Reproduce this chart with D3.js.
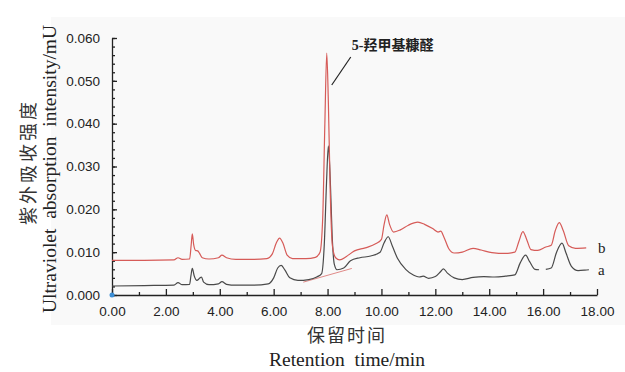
<!DOCTYPE html>
<html>
<head>
<meta charset="utf-8">
<script src="https://cdn.jsdelivr.net/npm/d3@7"></script>
<style>
  body { margin: 0; background: #fff; }
  svg { display: block; }
</style>
</head>
<body>
<div class="canvas"></div>
<script>
// curve b (red), [time, intensity]
const seriesB = [
  [0,0.0081],[1.2,0.0081],[2.3,0.0082],[2.45,0.0087],[2.6,0.0083],[2.88,0.0084],[2.94,0.0118],[2.98,0.0143],
  [3.03,0.0118],[3.1,0.0104],[3.18,0.0103],[3.25,0.0097],[3.35,0.0087],[3.6,0.0084],[3.95,0.0087],[4.08,0.0093],
  [4.25,0.0087],[4.6,0.0083],[5.2,0.0083],[5.75,0.0085],[5.95,0.0096],[6.1,0.0122],[6.22,0.0133],[6.35,0.0120],
  [6.5,0.0093],[6.7,0.0085],[7.2,0.0085],[7.55,0.0088],[7.72,0.0100],[7.82,0.018],[7.9,0.040],[7.97,0.0565],
  [8.03,0.045],[8.1,0.024],[8.18,0.0115],[8.3,0.0087],[8.45,0.0082],[8.7,0.0090],[9.0,0.0103],[9.4,0.0110],
  [9.8,0.0120],[10.0,0.0130],[10.1,0.0165],[10.2,0.0187],[10.3,0.0165],[10.45,0.0147],[10.7,0.0152],[11.0,0.0163],
  [11.35,0.0170],[11.6,0.0165],[11.9,0.0155],[12.1,0.0147],[12.2,0.0149],[12.32,0.0135],[12.5,0.0108],[12.7,0.0098],
  [13.0,0.0100],[13.4,0.0109],[13.7,0.0105],[14.1,0.0099],[14.6,0.0097],[14.95,0.0100],[15.1,0.0125],[15.25,0.0148],
  [15.4,0.0128],[15.55,0.0106],[15.8,0.0104],[16.1,0.0112],[16.3,0.0116],[16.45,0.0150],[16.6,0.0169],[16.75,0.0150],
  [16.95,0.0115],[17.2,0.0109],[17.6,0.0110]
]
// curve a (dark), null = gap in the trace
const seriesA = [
  [0,0.0021],[1.2,0.0022],[2.3,0.0023],[2.45,0.0029],[2.6,0.0024],[2.88,0.0025],[2.93,0.0045],[2.98,0.0062],
  [3.05,0.0045],[3.15,0.0034],[3.25,0.0039],[3.32,0.0042],[3.4,0.0030],[3.6,0.0024],[3.95,0.0026],[4.08,0.0031],
  [4.25,0.0025],[4.6,0.0023],[5.2,0.0023],[5.8,0.0026],[6.0,0.0040],[6.15,0.0063],[6.28,0.0069],[6.42,0.0058],
  [6.6,0.0040],[6.9,0.0034],[7.3,0.0036],[7.6,0.0042],[7.78,0.0050],[7.88,0.012],[7.96,0.026],[8.03,0.0348],
  [8.1,0.027],[8.17,0.014],[8.25,0.0072],[8.35,0.0059],[8.6,0.0063],[8.85,0.0080],[9.2,0.0087],[9.6,0.0091],
  [9.95,0.0100],[10.1,0.0122],[10.25,0.0136],[10.4,0.0115],[10.6,0.0085],[10.9,0.0060],[11.2,0.0046],[11.4,0.0042],
  [11.55,0.0044],[11.75,0.0039],[12.0,0.0043],[12.2,0.0055],[12.3,0.0061],[12.45,0.0051],[12.7,0.0040],[13.0,0.0036],
  [13.4,0.0041],[13.8,0.0043],[14.2,0.0042],[14.6,0.0044],[14.95,0.0047],[15.15,0.0075],[15.35,0.0093],[15.5,0.0078],
  [15.7,0.0060],[15.85,0.0059],[15.95,null],[16.1,0.0060],[16.3,0.0063],[16.5,0.0100],[16.7,0.0121],[16.85,0.0098],
  [17.05,0.0067],[17.3,0.0057],[17.55,0.0058],[17.7,0.0059]
]
// integration baseline under the main peak of a
const baselineA = [[7.1,0.0030],[8.9,0.0062]]

const yTicks = [0, 0.01, 0.02, 0.03, 0.04, 0.05, 0.06]
const xTicks = [0, 2, 4, 6, 8, 10, 12, 14, 16, 18]
const peakLabel = "5-羟甲基糠醛"
const seriesNames = ["b", "a"]

const dims = { width: 625, height: 372 }

var svg = d3.select('.canvas').append('svg')
  .attr('width', dims.width)
  .attr('height', dims.height)

// faint panel behind the plot
svg.append('rect')
  .attr('x', 51).attr('y', 17)
  .attr('width', 574).attr('height', 308)
  .attr('fill', '#f9f9f9')

var x = d3.scaleLinear().domain([0, 18]).range([112, 597])
var y = d3.scaleLinear().domain([0, 0.06]).range([295, 38])

//minor ticks first so the major ones sit on top
svg.append('g')
  .attr('transform', `translate(${x(0)},0)`)
  .call(d3.axisLeft(y).tickValues(d3.range(0, 0.0601, 0.002)).tickSize(-3).tickFormat(''))
  .call(g => g.select('.domain').remove())
svg.append('g')
  .attr('transform', `translate(0,${y(0)})`)
  .call(d3.axisBottom(x).tickValues(d3.range(1, 18, 2)).tickSize(-3).tickFormat(''))
  .call(g => g.select('.domain').remove())

var yAxis = svg.append('g')
  .attr('transform', `translate(${x(0)},0)`)
  .call(d3.axisLeft(y).tickValues(yTicks).tickSizeInner(-5).tickSizeOuter(0).tickPadding(12).tickFormat(d3.format('.3f')))

var xAxis = svg.append('g')
  .attr('transform', `translate(0,${y(0)})`)
  .call(d3.axisBottom(x).tickValues(xTicks).tickSizeInner(-6).tickSizeOuter(0).tickPadding(11).tickFormat(d3.format('.2f')))

svg.selectAll('.tick line, .domain').attr('stroke', '#222').attr('stroke-width', 1.3)
svg.selectAll('.tick text')
  .attr('font-family', 'Liberation Sans, sans-serif')
  .attr('font-size', 13.5)
  .attr('fill', '#222')

var line = d3.line()
  .defined(d => d[1] != null)
  .x(d => x(d[0]))
  .y(d => y(d[1]))
  .curve(d3.curveMonotoneX)

svg.append('path').datum(baselineA)
  .attr('d', line).attr('fill', 'none')
  .attr('stroke', '#e08a88').attr('stroke-width', 1)

svg.append('path').datum(seriesA)
  .attr('d', line).attr('fill', 'none')
  .attr('stroke', '#4a4a4a').attr('stroke-width', 1.2)

svg.append('path').datum(seriesB)
  .attr('d', line).attr('fill', 'none')
  .attr('stroke', '#d65b58').attr('stroke-width', 1.2)

// blue dot on the origin
svg.append('circle').attr('cx', x(0)).attr('cy', y(0)).attr('r', 2.5).attr('fill', '#3d8fd6')

// series labels at the right end
var ends = [seriesB[seriesB.length - 1], seriesA[seriesA.length - 1]]
svg.selectAll('.slabel').data(seriesNames).enter().append('text')
  .attr('class', 'slabel')
  .attr('x', 598)
  .attr('y', (d, i) => y(ends[i][1]) + 5)
  .attr('font-family', 'Liberation Serif, serif')
  .attr('font-size', 15)
  .attr('fill', '#222')
  .text(d => d)

// peak annotation
var peakTop = seriesB.reduce((a, b) => b[1] > a[1] ? b : a)
svg.append('line')
  .attr('x1', x(peakTop[0]) + 5).attr('y1', y(peakTop[1]) + 32)
  .attr('x2', x(peakTop[0]) + 24).attr('y2', y(peakTop[1]) + 4)
  .attr('stroke', '#222').attr('stroke-width', 1.2)
svg.append('text')
  .attr('x', x(peakTop[0]) + 25).attr('y', y(peakTop[1]) - 3)
  .attr('font-family', 'Liberation Serif, Noto Sans CJK SC, serif')
  .attr('font-weight', 'bold')
  .attr('font-size', 14)
  .attr('fill', '#222')
  .text(peakLabel)

// axis titles
svg.append('text')
  .attr('x', 347).attr('y', 342)
  .attr('text-anchor', 'middle')
  .attr('font-family', 'Noto Sans CJK SC, sans-serif')
  .attr('font-size', 18).attr('letter-spacing', 2)
  .attr('fill', '#333')
  .text('保留时间')
svg.append('text')
  .attr('x', 347).attr('y', 366)
  .attr('text-anchor', 'middle')
  .attr('font-family', 'Liberation Serif, serif')
  .attr('font-size', 19.5)
  .attr('fill', '#222')
  .style('white-space', 'pre')
  .text('Retention  time/min')

svg.append('text')
  .attr('transform', 'translate(35,162) rotate(-90)')
  .attr('text-anchor', 'middle')
  .attr('font-family', 'Noto Sans CJK SC, sans-serif')
  .attr('font-size', 18).attr('letter-spacing', 3)
  .attr('fill', '#333')
  .text('紫外吸收强度')
svg.append('text')
  .attr('transform', 'translate(56,169) rotate(-90)')
  .attr('text-anchor', 'middle')
  .attr('font-family', 'Liberation Serif, serif')
  .attr('font-size', 19.5)
  .attr('fill', '#222')
  .style('white-space', 'pre')
  .text('Ultraviolet  absorption  intensity/mU')
</script>
</body>
</html>
